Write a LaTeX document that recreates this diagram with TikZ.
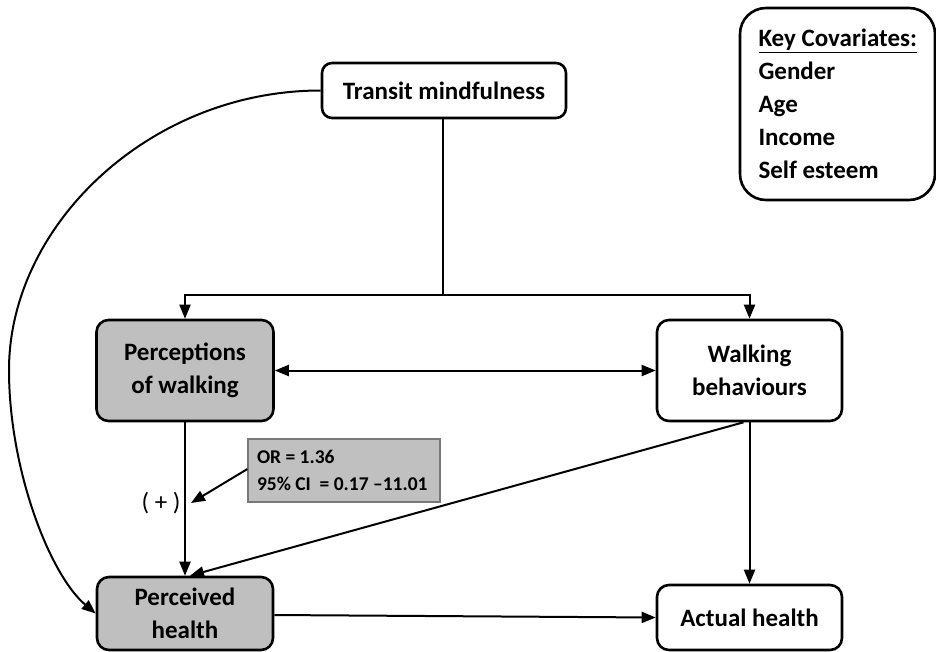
\documentclass[tikz,border=0pt]{standalone}
\usepackage{fontspec}
\setmainfont{Carlito}
\usetikzlibrary{arrows.meta}
\definecolor{boxgray}{RGB}{191,191,191}
\definecolor{orgray}{RGB}{192,192,192}
\definecolor{orborder}{RGB}{120,120,120}
\tikzset{
  mainbox/.style={draw=black, line width=2.6pt, rounded corners=12pt, fill=white,
    align=flush center, inner sep=0pt, font=\fontsize{25}{33}\selectfont\bfseries},
  graybox/.style={mainbox, fill=boxgray},
  conn/.style={line width=2pt, draw=black},
  arr/.style={conn, -{Triangle[length=14pt,width=11pt]}},
  darr/.style={conn, {Triangle[length=14pt,width=11pt]}-{Triangle[length=14pt,width=11pt]}},
}
\begin{document}
\begin{tikzpicture}[x=1pt,y=-1pt]
\useasboundingbox (0,0) rectangle (936,651);

% nodes
\node[mainbox, minimum width=244pt, minimum height=55pt, rounded corners=10pt] (tm) at (444,90.5) {Transit mindfulness};
\node[mainbox, minimum width=195pt, minimum height=192pt, rounded corners=26pt, align=flush left,
      text width=158pt, inner xsep=18.5pt] (kc) at (837.5,104)
  {\underline{Key Covariates:}\\Gender\\Age\\Income\\Self esteem};
\node[graybox, minimum width=177pt, minimum height=101pt] (pw) at (185,370.5) {Perceptions\\of walking};
\node[mainbox, minimum width=185pt, minimum height=101pt] (wb) at (749.5,370.5) {Walking\\behaviours};
\node[graybox, minimum width=176pt, minimum height=73pt] (ph) at (185,613.5) {Perceived\\health};
\node[mainbox, minimum width=185pt, minimum height=65pt] (ah) at (749.5,617.5) {Actual health};
\node[draw=orborder, line width=1.2pt, fill=orgray, minimum width=192pt, minimum height=63pt,
      text width=174pt, inner xsep=9pt, inner ysep=0pt, align=flush left,
      font=\fontsize{19.5}{27}\selectfont\bfseries] (or) at (344,470.5)
  {OR = 1.36\\95\% CI\ \ = 0.17 –11.01};
\node[font=\fontsize{25}{28}\selectfont] (plus) at (161,503) {( + )};

% connectors
\coordinate (br) at (443,295);
\coordinate (tgt) at (191,503);
\draw[conn] (tm.south -| br) -- (br);
\draw[arr] (br) -| (pw.north);
\draw[arr] (br) -| (wb.north);
\draw[darr] (pw.east) -- (wb.west);
\draw[arr] (pw.south) -- (ph.north);
\draw[arr] (wb.south) -- (ah.north);
\draw[arr] ([xshift=-6pt]wb.south) -- ([xshift=5pt]ph.north);
\draw[arr] ([yshift=-1.5pt]ph.east) -- (ah.west);
\draw[arr] ([yshift=1.5pt]or.west) -- (tgt);
\draw[arr] (tm.west) .. controls (150,90.5) and (9,225) .. (9,370)
  .. controls (9,470) and (50,575) .. (ph.west);
\end{tikzpicture}
\end{document}
